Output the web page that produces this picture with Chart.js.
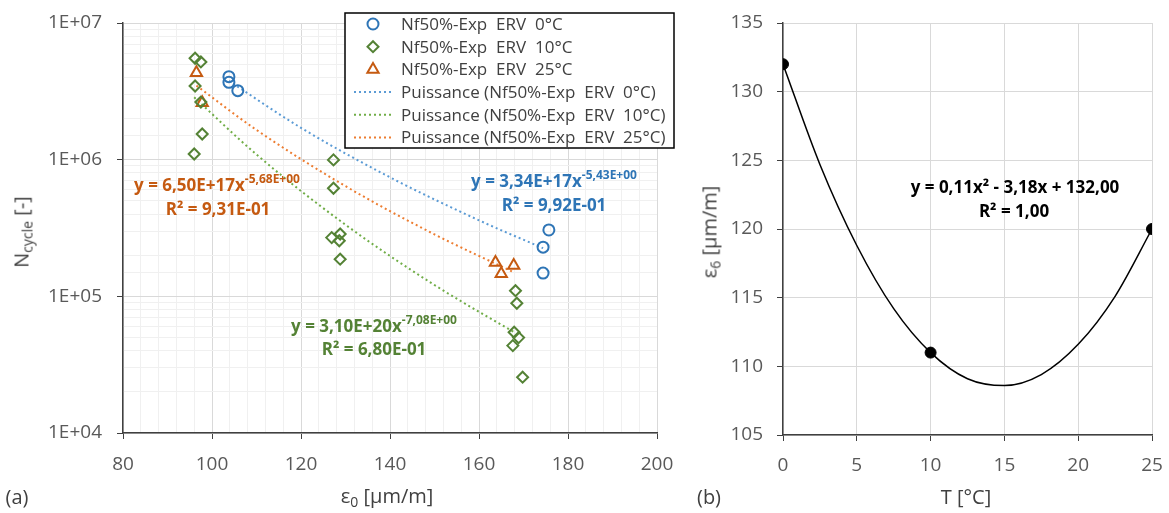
<!DOCTYPE html>
<html>
<head>
<meta charset="utf-8">
<script src="https://cdn.jsdelivr.net/npm/chart.js@4.4.0/dist/chart.umd.min.js"></script>
<style>
    html, body { margin: 0; padding: 0; overflow: hidden; background: #fff; font-family: 'Open Sans', sans-serif; }
    #wrap { position: relative; width: 1169px; height: 513px; overflow: hidden; }
    #left { position: absolute; left: 0; top: 0; }
    #right { position: absolute; left: 700px; top: 0; }
    .lbl { position: absolute; color: #404040; font-size: 20px; line-height: 1; white-space: nowrap; transform: translate(-50%, -50%); }
    .lbl sub { font-size: 14px; vertical-align: -4px; }
    .rot { transform: translate(-50%, -50%) rotate(-90deg); }
</style>
</head>
<body>
<div id="wrap">
    <canvas id="left" width="700" height="513"></canvas>
    <canvas id="right" width="469" height="513"></canvas>
    <div class="lbl rot" style="left:23px; top:232px;">N<sub>cycle</sub> [-]</div>
    <div class="lbl" style="left:387px; top:497px;">ε<sub>0</sub> [µm/m]</div>
    <div class="lbl" style="left:17px; top:497px;">(a)</div>
    <div class="lbl rot" style="left:711px; top:232px;">ε<sub>6</sub> [µm/m]</div>
    <div class="lbl" style="left:966px; top:497px;">T [°C]</div>
    <div class="lbl" style="left:709px; top:497px;">(b)</div>
</div>
<script>
// ---- (a) fatigue data: strain eps0 [µm/m] vs number of cycles ----
let exp0X = [103.8, 103.8, 105.8, 174.4, 175.7, 174.4]
let exp0Y = [4.05e6, 3.68e6, 3.2e6, 2.29e5, 3.06e5, 1.48e5]
let exp10X = [96.2, 97.5, 96.2, 97.8, 96.0, 97.5, 127.3, 127.3, 126.9, 128.8, 128.6, 128.8, 168.2, 168.5, 167.9, 168.9, 167.6, 169.8]
let exp10Y = [5.52e6, 5.19e6, 3.46e6, 1.54e6, 1.10e6, 2.64e6, 9.96e5, 6.18e5, 2.69e5, 2.86e5, 2.55e5, 1.87e5, 1.10e5, 8.9e4, 5.46e4, 4.99e4, 4.36e4, 2.56e4]
let exp25X = [96.5, 97.8, 163.7, 165.0, 167.8]
let exp25Y = [4.33e6, 2.61e6, 1.77e5, 1.46e5, 1.68e5]

// power trend lines
let fit0X = [103.8, 120, 140, 160, 174.4]
let fit0Y = [3.77e6, 1.71e6, 7.43e5, 3.60e5, 2.25e5]
let fit10X = [96, 110, 130, 150, 168.2]
let fit10Y = [2.86e6, 1.09e6, 3.34e5, 1.21e5, 5.4e4]
let fit25X = [96.5, 110, 130, 150, 167.8]
let fit25Y = [3.48e6, 1.65e6, 6.40e5, 2.84e5, 1.50e5]

let seriesNames = ['Nf50%-Exp  ERV  0°C', 'Nf50%-Exp  ERV  10°C', 'Nf50%-Exp  ERV  25°C']
let xTickLabels = [80, 100, 120, 140, 160, 180, 200]
let yTickLabels = ['1E+04', '1E+05', '1E+06', '1E+07']

// ---- (b) eps6 vs temperature ----
let tempX = [0, 10, 25]
let eps6Y = [132, 111, 120]
let fitTX = [0, 2.5, 5, 7.5, 10, 12.5, 15, 17.5, 20, 22.5, 25]
let fitTY = [132, 124.7, 118.8, 114.2, 111.0, 109.1, 108.6, 109.4, 111.6, 115.1, 120.0]

Chart.defaults.font.family = "'Open Sans', sans-serif"
Chart.defaults.color = '#595959'

function pairs(xs, ys) {
    return xs.map(function (x, i) { return {x: x, y: ys[i]} })
}

function isDecade(v) {
    let l = Math.log10(v)
    return Math.abs(l - Math.round(l)) < 1e-6
}

// fixed axis sizes so the plot areas sit where the original ones do
function fixX(h) {
    return function (s) { s.height = h; s.paddingLeft = 0; s.paddingRight = 0 }
}
function fixY(w) {
    return function (s) { s.width = w; s.paddingTop = 0; s.paddingBottom = 0 }
}

// boxed legend in the top right, drawn like the Excel one
let boxLegend = {
    id: 'boxLegend',
    afterDraw(chart) {
        let c = chart.ctx
        c.save()
        c.fillStyle = '#fff'
        c.fillRect(345, 13, 329, 135)
        c.strokeStyle = '#000'
        c.lineWidth = 1.5
        c.strokeRect(345, 13, 329, 135)
        c.font = '17px "Open Sans"'
        c.textBaseline = 'middle'
        chart.data.datasets.forEach(function (ds, i) {
            let y = 24 + i * 22.7
            if (ds.showLine) {
                c.strokeStyle = ds.borderColor
                c.lineWidth = 2
                c.setLineDash([2, 3])
                c.beginPath()
                c.moveTo(354, y)
                c.lineTo(392, y)
                c.stroke()
                c.setLineDash([])
            } else {
                c.strokeStyle = ds.borderColor
                c.fillStyle = '#fff'
                c.lineWidth = 2
                Chart.helpers.drawPoint(c, {pointStyle: ds.pointStyle, radius: ds.pointRadius, borderWidth: 2, rotation: 0}, 373, y)
            }
            c.fillStyle = '#404040'
            c.fillText(ds.label, 401, y + 1)
        })
        c.restore()
    }
}

// trend line equations with superscripts
function drawEquations(chart, items) {
    let c = chart.ctx
    c.save()
    c.textBaseline = 'middle'
    items.forEach(function (it) {
        c.fillStyle = it.color
        c.font = 'bold 17px "Open Sans"'
        let w1 = c.measureText(it.main).width
        c.font = 'bold 12px "Open Sans"'
        let w2 = it.sup ? c.measureText(it.sup).width : 0
        let x0 = it.cx - (w1 + w2) / 2
        c.font = 'bold 17px "Open Sans"'
        c.fillText(it.main, x0, it.cy)
        if (it.sup) {
            c.font = 'bold 12px "Open Sans"'
            c.fillText(it.sup, x0 + w1, it.cy - 6)
        }
    })
    c.restore()
}

let leftEquations = {
    id: 'leftEquations',
    afterDatasetsDraw(chart) {
        drawEquations(chart, [
            {main: 'y = 6,50E+17x', sup: '-5,68E+00', color: '#C55A11', cx: 217, cy: 186},
            {main: 'R² = 9,31E-01', color: '#C55A11', cx: 218, cy: 210},
            {main: 'y = 3,34E+17x', sup: '-5,43E+00', color: '#2E75B6', cx: 554, cy: 182},
            {main: 'R² = 9,92E-01', color: '#2E75B6', cx: 554, cy: 206},
            {main: 'y = 3,10E+20x', sup: '-7,08E+00', color: '#548235', cx: 374, cy: 327},
            {main: 'R² = 6,80E-01', color: '#548235', cx: 374, cy: 350}
        ])
    }
}

let rightEquations = {
    id: 'rightEquations',
    afterDatasetsDraw(chart) {
        drawEquations(chart, [
            {main: 'y = 0,11x² - 3,18x + 132,00', color: '#000', cx: 315, cy: 188},
            {main: 'R² = 1,00', color: '#000', cx: 314, cy: 212}
        ])
    }
}

function scatterSet(label, xs, ys, color, style, r) {
    return {
        label: label, data: pairs(xs, ys),
        pointStyle: style, pointRadius: r, pointHoverRadius: r,
        borderColor: color, backgroundColor: 'rgba(0,0,0,0)', borderWidth: 2
    }
}

function trendSet(label, xs, ys, color) {
    return {
        label: label, data: pairs(xs, ys), showLine: true,
        borderColor: color, borderWidth: 2, borderDash: [2, 3],
        pointRadius: 0, cubicInterpolationMode: 'monotone'
    }
}

let leftChart = new Chart(document.getElementById('left'), {
    type: 'scatter',
    data: {
        datasets: [
            scatterSet(seriesNames[0], exp0X, exp0Y, '#2E75B6', 'circle', 5.5),
            scatterSet(seriesNames[1], exp10X, exp10Y, '#548235', 'rectRot', 5.5),
            scatterSet(seriesNames[2], exp25X, exp25Y, '#C55A11', 'triangle', 6.5),
            trendSet('Puissance (' + seriesNames[0] + ')', fit0X, fit0Y, '#5B9BD5'),
            trendSet('Puissance (' + seriesNames[1] + ')', fit10X, fit10Y, '#70AD47'),
            trendSet('Puissance (' + seriesNames[2] + ')', fit25X, fit25Y, '#ED7D31')
        ]
    },
    options: {
        responsive: false,
        animation: false,
        layout: {padding: {top: 23, right: 43, left: 0, bottom: 0}},
        plugins: {legend: {display: false}, tooltip: {enabled: false}},
        scales: {
            x: {
                type: 'linear', min: 80, max: 200,
                afterFit: fixX(80),
                ticks: {
                    stepSize: 4, autoSkip: false, maxRotation: 0, padding: 14,
                    font: {size: 19}, color: '#595959',
                    callback: function (v) { return xTickLabels.includes(v) ? String(v) : '' }
                },
                grid: {
                    color: function (ctx) { return ctx.tick && xTickLabels.includes(ctx.tick.value) ? '#D9D9D9' : '#F0F0F0' },
                    tickColor: function (ctx) { return ctx.tick && xTickLabels.includes(ctx.tick.value) ? '#404040' : 'rgba(0,0,0,0)' },
                    tickLength: 6
                },
                border: {color: '#404040', width: 1.5}
            },
            y: {
                type: 'logarithmic', min: 1e4, max: 1e7,
                afterFit: fixY(123),
                ticks: {
                    autoSkip: false, padding: 15,
                    font: {size: 19}, color: '#595959',
                    callback: function (v) {
                        return isDecade(v) ? yTickLabels[Math.round(Math.log10(v)) - 4] : ''
                    }
                },
                grid: {
                    color: function (ctx) { return ctx.tick && isDecade(ctx.tick.value) ? '#D9D9D9' : '#F0F0F0' },
                    tickColor: function (ctx) { return ctx.tick && isDecade(ctx.tick.value) ? '#404040' : 'rgba(0,0,0,0)' },
                    tickLength: 6
                },
                border: {color: '#404040', width: 1.5}
            }
        }
    },
    plugins: [leftEquations, boxLegend]
})

let rightChart = new Chart(document.getElementById('right'), {
    type: 'scatter',
    data: {
        datasets: [
            {
                label: 'eps6', data: pairs(tempX, eps6Y),
                pointStyle: 'circle', pointRadius: 5.5, backgroundColor: '#000', borderColor: '#000'
            },
            {
                label: 'Polynomial', data: pairs(fitTX, fitTY), showLine: true,
                borderColor: '#000', borderWidth: 1.5, pointRadius: 0, cubicInterpolationMode: 'monotone'
            }
        ]
    },
    options: {
        responsive: false,
        animation: false,
        layout: {padding: {top: 23, right: 17, left: 0, bottom: 0}},
        plugins: {legend: {display: false}, tooltip: {enabled: false}},
        scales: {
            x: {
                type: 'linear', min: 0, max: 25,
                afterFit: fixX(78),
                ticks: {stepSize: 5, maxRotation: 0, padding: 13, font: {size: 19}, color: '#595959'},
                grid: {color: '#D9D9D9', tickColor: '#404040', tickLength: 6},
                border: {color: '#404040', width: 1.5}
            },
            y: {
                type: 'linear', min: 105, max: 135,
                afterFit: fixY(83),
                ticks: {stepSize: 5, padding: 14, font: {size: 19}, color: '#595959'},
                grid: {color: '#D9D9D9', tickColor: '#404040', tickLength: 6},
                border: {color: '#404040', width: 1.5}
            }
        }
    },
    plugins: [rightEquations]
})
</script>
</body>
</html>
